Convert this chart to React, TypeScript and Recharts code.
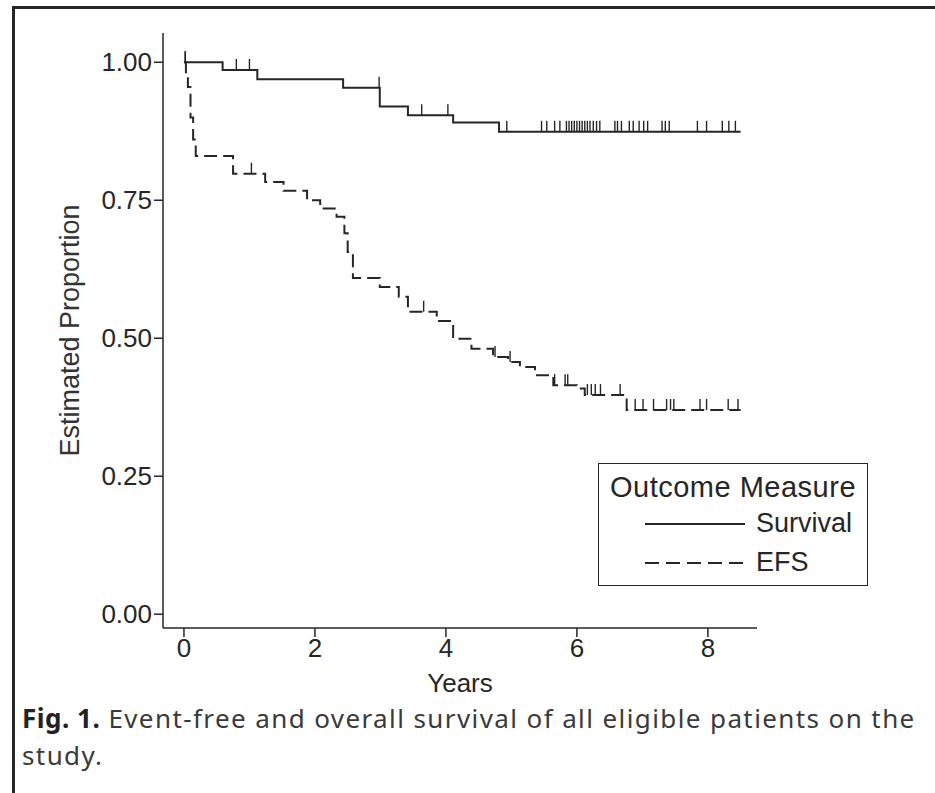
import React from "react";
import {
  ComposedChart,
  Line,
  Scatter,
  XAxis,
  YAxis,
  Legend,
} from "recharts";

// Kaplan-Meier step estimates (years, proportion)
const survivalTimes = [0, 0.59, 1.12, 2.43, 2.99, 3.42, 4.11, 4.81, 8.5];
const survivalProbs = [1.0, 0.986, 0.969, 0.954, 0.92, 0.904, 0.891, 0.874, 0.874];

const efsTimes = [
  0, 0.03, 0.06, 0.1, 0.14, 0.18, 0.75, 1.24, 1.52, 1.88, 2.08, 2.33, 2.45,
  2.5, 2.58, 2.99, 3.28, 3.42, 3.86, 4.11, 4.39, 4.72, 4.95, 5.13, 5.36, 5.64,
  6.0, 6.12, 6.76, 8.5,
];
const efsProbs = [
  1.0, 0.975, 0.955, 0.9, 0.86, 0.83, 0.798, 0.783, 0.767, 0.75, 0.735, 0.72,
  0.69, 0.656, 0.609, 0.593, 0.575, 0.548, 0.531, 0.499, 0.481, 0.466, 0.457,
  0.448, 0.433, 0.415, 0.409, 0.397, 0.37, 0.37,
];

// censored observations (years)
const survivalCensored = [
  0.02, 0.8, 1.0, 2.98, 3.63, 4.03, 4.93, 5.46, 5.54, 5.66, 5.74, 5.84, 5.88,
  5.92, 5.96, 6.0, 6.04, 6.08, 6.12, 6.16, 6.2, 6.25, 6.3, 6.35, 6.58, 6.62,
  6.68, 6.8, 6.86, 6.95, 7.02, 7.08, 7.3, 7.35, 7.41, 7.84, 7.98, 8.22, 8.32,
  8.42,
];
const efsCensored = [
  0.02, 1.03, 3.66, 4.75, 4.98, 5.66, 5.82, 5.86, 6.16, 6.22, 6.28, 6.36, 6.66,
  6.89, 7.01, 7.17, 7.37, 7.43, 7.48, 7.88, 7.98, 8.31, 8.46,
];

const xTicks = [0, 2, 4, 6, 8];
const yTicks = [0, 0.25, 0.5, 0.75, 1];

const INK = "#262626";
const AXIS_FONT = "'Liberation Sans', Arial, sans-serif";

const toSteps = (times: number[], probs: number[]) =>
  times.map((t, i) => ({ t, p: probs[i] }));

// value of the step curve at time t
const stepAt = (times: number[], probs: number[], t: number) => {
  let p = probs[0];
  for (let i = 0; i < times.length; i++) {
    if (times[i] <= t) p = probs[i];
  }
  return p;
};

const censorPoints = (times: number[], probs: number[], marks: number[]) =>
  marks.map((t) => ({ t, p: stepAt(times, probs, t) }));

const survivalData = toSteps(survivalTimes, survivalProbs);
const efsData = toSteps(efsTimes, efsProbs);
const survivalMarks = censorPoints(survivalTimes, survivalProbs, survivalCensored);
const efsMarks = censorPoints(efsTimes, efsProbs, efsCensored);

const CensorTick = (props: any) => {
  const { cx, cy } = props;
  if (cx == null || cy == null) return null;
  return <line x1={cx} x2={cx} y1={cy} y2={cy - 11} stroke={INK} strokeWidth={1.4} />;
};

const OutcomeLegend = () => (
  <div
    style={{
      border: `1.5px solid ${INK}`,
      background: "#fff",
      fontFamily: AXIS_FONT,
      color: INK,
      padding: "6px 0 6px 0",
      width: 270,
      height: 123,
      boxSizing: "border-box",
    }}
  >
    <div style={{ fontSize: 29, textAlign: "center", lineHeight: "34px", letterSpacing: 0.5 }}>
      Outcome Measure
    </div>
    {[
      { name: "Survival", dash: undefined },
      { name: "EFS", dash: "14 7" },
    ].map((s) => (
      <div
        key={s.name}
        style={{ display: "flex", alignItems: "center", height: 39, paddingLeft: 46 }}
      >
        <svg width={100} height={10}>
          <line
            x1={0}
            x2={100}
            y1={5}
            y2={5}
            stroke={INK}
            strokeWidth={2}
            strokeDasharray={s.dash}
          />
        </svg>
        <span style={{ fontSize: 27, marginLeft: 11 }}>{s.name}</span>
      </div>
    ))}
  </div>
);

export default function App() {
  return (
    <div
      style={{
        position: "absolute",
        left: 0,
        top: 0,
        width: 935,
        height: 793,
        background: "#fff",
        overflow: "hidden",
      }}
    >
      <div
        style={{
          position: "absolute",
          left: 12,
          top: 6,
          right: -10,
          bottom: -10,
          borderTop: `3px solid ${INK}`,
          borderLeft: `3px solid ${INK}`,
        }}
      />
      <div style={{ position: "absolute", left: 0, top: 0 }}>
        <ComposedChart
          width={935}
          height={793}
          margin={{ top: 33, right: 178, left: 0, bottom: 0 }}
        >
          <XAxis
            type="number"
            dataKey="t"
            domain={[-0.32, 8.75]}
            allowDataOverflow
            ticks={xTicks}
            tickSize={9}
            height={165}
            stroke={INK}
            strokeWidth={1.5}
            tick={{ fill: INK, fontSize: 26, fontFamily: AXIS_FONT }}
            label={{
              value: "Years",
              position: "insideTop",
              offset: 46,
              fill: INK,
              fontSize: 26,
              fontFamily: AXIS_FONT,
            }}
          />
          <YAxis
            type="number"
            dataKey="p"
            domain={[-0.025, 1.053]}
            allowDataOverflow
            ticks={yTicks}
            tickFormatter={(v: number) => v.toFixed(2)}
            tickSize={9}
            width={163}
            stroke={INK}
            strokeWidth={1.5}
            tick={{ fill: INK, fontSize: 26, fontFamily: AXIS_FONT }}
            label={{
              value: "Estimated Proportion",
              angle: -90,
              position: "center",
              dx: -12,
              fill: "#333",
              fontSize: 27,
              fontFamily: AXIS_FONT,
            }}
          />
          <Legend
            layout="horizontal"
            verticalAlign="middle"
            align="center"
            wrapperStyle={{ left: 598, top: 463, width: 270 }}
            content={() => <OutcomeLegend />}
          />
          <Line
            data={survivalData}
            dataKey="p"
            type="stepAfter"
            stroke={INK}
            strokeWidth={2}
            dot={false}
            isAnimationActive={false}
          />
          <Line
            data={efsData}
            dataKey="p"
            type="stepAfter"
            stroke={INK}
            strokeWidth={2}
            strokeDasharray="13 6"
            dot={false}
            isAnimationActive={false}
          />
          <Scatter data={survivalMarks} dataKey="p" shape={CensorTick} isAnimationActive={false} />
          <Scatter data={efsMarks} dataKey="p" shape={CensorTick} isAnimationActive={false} />
        </ComposedChart>
      </div>
      <div
        style={{
          position: "absolute",
          left: 22,
          top: 700,
          width: 913,
          whiteSpace: "nowrap",
          fontFamily: "'Noto Sans', 'Open Sans', sans-serif",
          fontSize: 26,
          lineHeight: "37px",
          letterSpacing: 1.4,
          color: "#3a3a3a",
        }}
      >
        <b style={{ color: "#222", letterSpacing: 0.5 }}>Fig. 1.</b> Event-free and overall
        survival of all eligible patients on the
        <br />
        study.
      </div>
    </div>
  );
}
